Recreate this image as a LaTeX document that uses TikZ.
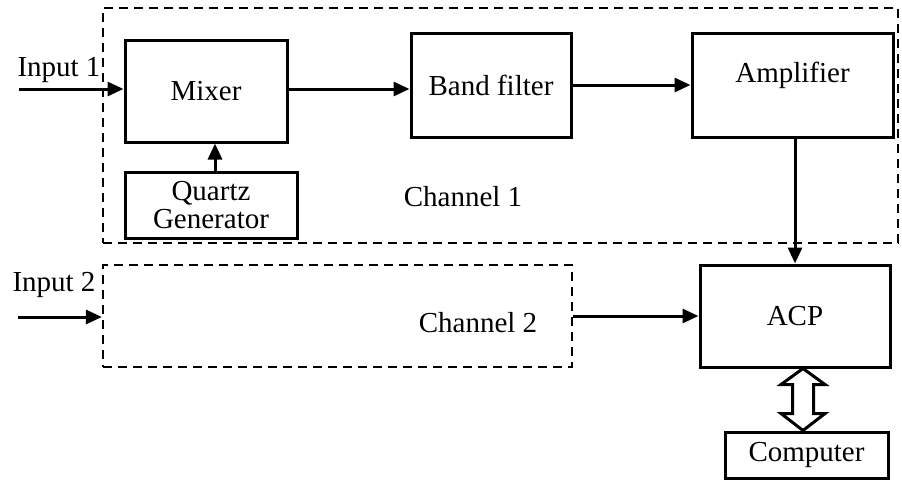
\documentclass[tikz,border=0pt]{standalone}
\usepackage{fontspec}
\setmainfont{Liberation Serif}
\usetikzlibrary{calc,positioning,arrows.meta}

\tikzset{
	block/.style={draw, line width=3pt, minimum width=#1, inner sep=0pt},
	chan/.style={draw, dashed, line width=2.2pt, dash pattern=on 9pt off 6pt, inner sep=0pt},
	flow/.style={line width=3pt, -{Triangle[length=16pt,width=14pt]}},
	lbl/.style={inner sep=0pt}
}

\begin{document}
\begin{tikzpicture}[x=1pt, y=-1pt, font=\fontsize{29}{30}\selectfont]
			\useasboundingbox (0,0) rectangle (902,480);

			% the two channels
			\node[chan, minimum width=795, minimum height=235] (ch1) at(500.5, 125.5){};
			\node[chan, minimum width=469, minimum height=102] (ch2) at(337.5, 316){};
			\node[lbl] (ch1txt) at(463, 197){Channel 1};
			\node[lbl] (ch2txt) at(478, 323){Channel 2};

			% blocks
			\node[block=162, minimum height=102] (mixer) at(206, 91){Mixer};
			\node[block=172, minimum height=66, align=center] (quartz) at(211, 205){Quartz\\[-2pt]Generator};
				\node[block=160, minimum height=104] (band) at(491, 85){Band filter};
				\node[block=201, minimum height=104,
					label={[yshift=10pt]center:Amplifier}] (amp) at(792.5, 85){};
			\node[block=190, minimum height=102, text depth=-8pt] (acp) at(795, 316){ACP};
			\node[block=163, minimum height=46] (pc) at(806.5, 455){Computer};

			% inputs
			\node[lbl] (in1txt) at(59, 70){Input 1};
			\node[lbl] (in2txt) at(54, 285){Input 2};
			\coordinate (in1) at(19, 89);
			\coordinate (in2) at(18, 317);
			\coordinate (qz) at($(quartz.north) + (4,0)$);
			\coordinate (mx) at($(mixer.east) + (0,-2)$);

			\draw[flow] (in1) to (in1 -| mixer.west);
			\draw[flow] (in2) to (in2 -| ch2.west);
			\draw[flow] (qz) to (qz |- mixer.south);
			\draw[flow] (mx) to (mx -| band.west);
			\draw[flow] (band.east) to (band.east -| amp.west);
			\draw[flow] (amp.south -| acp.north) to (acp.north);
			\draw[flow] (ch2.east) to (ch2.east -| acp.west);

			% data link ACP <-> computer
			\coordinate (link) at(803, 0);
			\draw[line width=3pt, line join=miter, fill=white]
				(link |- acp.south) -- ++(22,16) -- ++(-11.5,0) -- ($(link |- pc.north) + (10.5,-17)$)
				-- ++(11.5,0) -- (link |- pc.north) -- ++(-22,-17) -- ++(11.5,0)
				-- ($(link |- acp.south) + (-10.5,16)$) -- ++(-11.5,0) -- cycle;

		\end{tikzpicture}
\end{document}
